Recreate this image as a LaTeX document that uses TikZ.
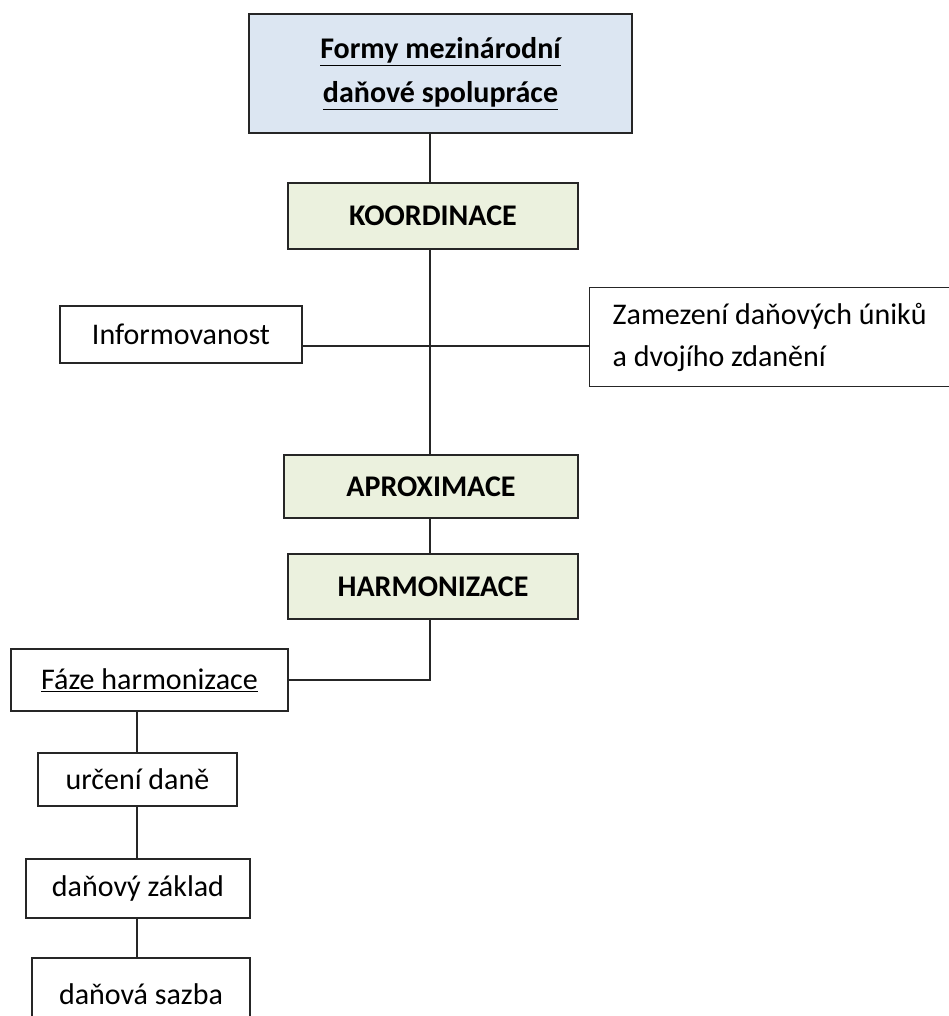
\documentclass[tikz,border=0pt]{standalone}
\usepackage{fontspec}
\setmainfont{Carlito}

\definecolor{headblue}{HTML}{DCE6F2}
\definecolor{stepgreen}{HTML}{EBF1DE}

\begin{document}
\begin{tikzpicture}[x=1pt,y=-1pt,
		box/.style={draw=black!85,line width=1.4pt,inner sep=0pt,font=\fontsize{30}{42}\selectfont},
		headbox/.style={box,fill=headblue,font=\fontsize{30}{44}\selectfont\bfseries,align=center},
		stagebox/.style={box,fill=stepgreen,font=\fontsize{30}{42}\selectfont\bfseries},
		link/.style={draw=black!85,line width=1.4pt}]
	\useasboundingbox (0,0) rectangle (949,1016);
	\clip (0,0) rectangle (949,1016);

	% main column
	\node [headbox,minimum width=383,minimum height=119] (forms) at (440.5,73.5)
		{\underline{Formy mezinárodní}\\\underline{daňové spolupráce}};
	\node [stagebox,minimum width=290,minimum height=66] (koord) at (433,216) {KOORDINACE};
	\node [stagebox,minimum width=294,minimum height=63] (aprox) at (431,486.5) {APROXIMACE};
	\node [stagebox,minimum width=290,minimum height=65] (harm) at (433,586.5) {HARMONIZACE};

	% side boxes
	\node [box,minimum width=242,minimum height=57] (info) at (181,334.5) {Informovanost};
	\node [box,anchor=north west,align=flush left,text width=330,inner xsep=23,minimum height=99] (zamez) at (589,287)
		{Zamezení daňových úniků\\a dvojího zdanění};

	% harmonisation phases
	\node [box,minimum width=277,minimum height=62] (faze) at (149.5,680) {\underline{Fáze harmonizace}};
	\node [box,minimum width=199,minimum height=53] (urceni) at (137.5,779.5) {určení daně};
	\node [box,minimum width=224,minimum height=59] (zaklad) at (138,888.5) {daňový základ};
	\node [box,minimum width=218,minimum height=72] (sazba) at (141,994) {daňová sazba};

	\coordinate (trunk) at (430,346);
	\coordinate (side) at (137,0);

	\foreach \a/\b in {forms/koord,koord/aprox,aprox/harm}{
			\draw [link] (\a.south -| trunk) -- (\b.north -| trunk);
		}
	\draw [link] (info.east |- trunk) -- (zamez.west |- trunk);
	\draw [link] (harm.south -| trunk) |- (faze.east);

	\foreach \a/\b in {faze/urceni,urceni/zaklad,zaklad/sazba}{
			\draw [link] (\a.south -| side) -- (\b.north -| side);
		}
\end{tikzpicture}
\end{document}
